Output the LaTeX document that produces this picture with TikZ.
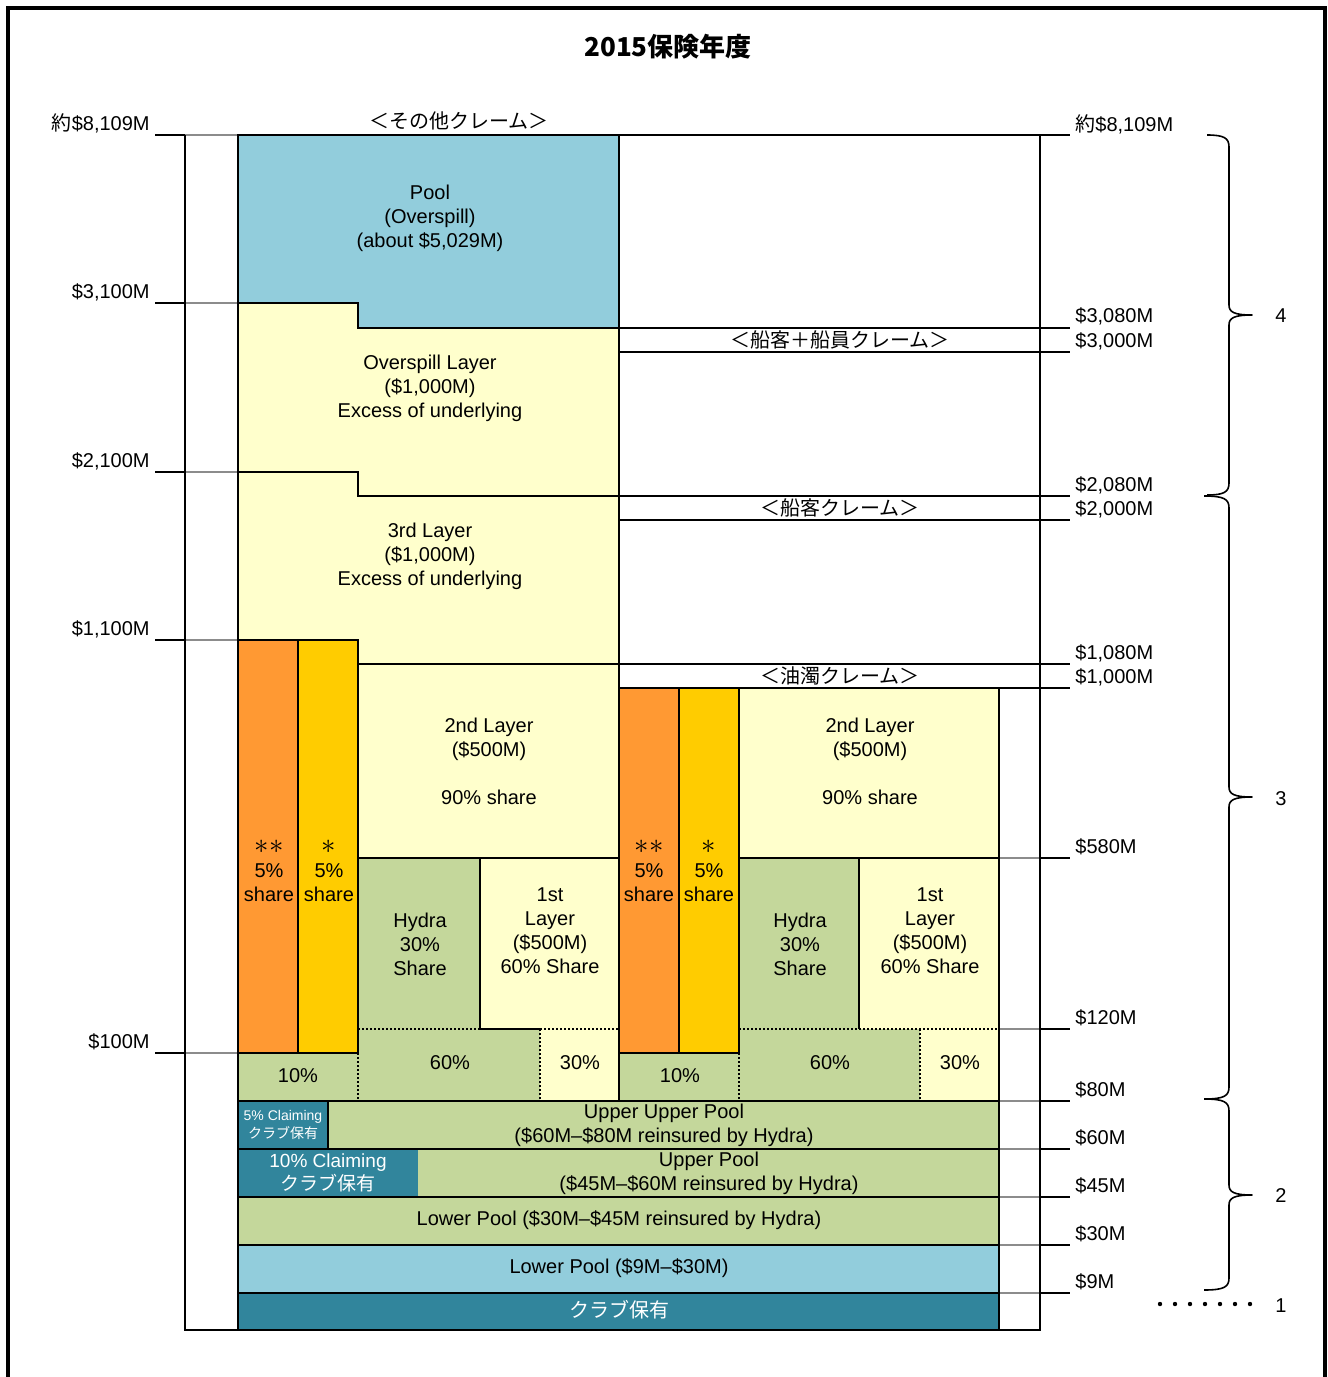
\documentclass[tikz,border=0pt]{standalone}
\usepackage{fontspec}
\setmainfont{Liberation Sans}
\newfontfamily\cjkfont{Noto Sans CJK JP}
\newcommand\jtxt[1]{{\cjkfont #1}}
\newcommand\bigast[1]{{\fontsize{15}{12}\selectfont$#1$}}
\definecolor{poolblue}{HTML}{92CDDC}
\definecolor{lyellow}{HTML}{FFFFCC}
\definecolor{lorange}{HTML}{FF9933}
\definecolor{lgold}{HTML}{FFCC00}
\definecolor{lgreen}{HTML}{C4D79B}
\definecolor{clubteal}{HTML}{31859C}
\newcommand\drawbrace[4]{%
  \draw[bracestyle] (#1,#2) .. controls (1224,#2) and (1229,#2+3) .. (1229,#2+12)
    -- (1229,#3-10) .. controls (1229,#3-3) and (1234,#3) .. (1252,#3)
    .. controls (1234,#3) and (1229,#3+3) .. (1229,#3+10)
    -- (1229,#4-12) .. controls (1229,#4-3) and (1224,#4) .. (#1,#4);}
\begin{document}
\begin{tikzpicture}[x=0.5pt,y=-0.5pt,
  every node/.style={inner sep=0pt, font=\fontsize{10}{12}\selectfont, align=center},
  solidline/.style={line width=1pt, black},
  thinline/.style={line width=0.6pt, black},
  grayline/.style={line width=0.6pt, black!45},
  dotline/.style={line width=1pt, black, dash pattern=on 1pt off 1pt},
  tickline/.style={line width=1pt, black},
  bracestyle/.style={line width=0.8pt, black, line join=round},
  whitetxt/.style={text=white}]
\useasboundingbox (0,0) rectangle (1328,1377);
\fill[white] (0,0) rectangle (1328,1377);
% outer frame
\draw[line width=2pt] (8,1377) -- (8,8) -- (1325,8) -- (1325,1377);

% ---------- fills ----------
\fill[poolblue] (238,135) -- (619,135) -- (619,328) -- (358,328) -- (358,303) -- (238,303) -- cycle;
\fill[lyellow] (238,303) -- (358,303) -- (358,328) -- (619,328) -- (619,664) -- (358,664) -- (358,640) -- (238,640) -- cycle;
\fill[lorange] (238,640) rectangle (298,1053);
\fill[lgold] (298,640) rectangle (358,1053);
\fill[lyellow] (358,664) rectangle (619,1101);
\fill[lgreen] (358,858) rectangle (480,1029);
\fill[lgreen] (358,1029) rectangle (540,1101);
\fill[lgreen] (238,1053) rectangle (358,1101);
\fill[lorange] (619,688) rectangle (679,1053);
\fill[lgold] (679,688) rectangle (739,1053);
\fill[lyellow] (739,688) rectangle (999,1101);
\fill[lgreen] (739,858) rectangle (859,1029);
\fill[lgreen] (739,1029) rectangle (920,1101);
\fill[lgreen] (619,1053) rectangle (739,1101);
\fill[lgreen] (238,1101) rectangle (999,1245);
\fill[clubteal] (238,1101) rectangle (328,1149);
\fill[clubteal] (238,1149) rectangle (418,1197);
\fill[poolblue] (238,1245) rectangle (999,1293);
\fill[clubteal] (238,1293) rectangle (999,1330);

% ---------- thin lines ----------
\foreach \y in {135,303,472,640,1053} \draw[grayline] (185,\y) -- (238,\y);
\foreach \y in {858,1029,1101,1149,1197,1245,1293} \draw[grayline] (999,\y) -- (1040,\y);
\foreach \y in {135,328,352,496,520,664,688} \draw[thinline] (619,\y) -- (1040,\y);

% ---------- axes and ticks ----------
\draw[solidline] (185,135) -- (185,1330) -- (1040,1330) -- (1040,135);
\foreach \y in {135,303,472,640,1053} \draw[tickline] (155,\y) -- (185,\y);
\foreach \y in {135,328,352,496,520,664,688,858,1029,1101,1149,1197,1245,1293} \draw[tickline] (1040,\y) -- (1070,\y);

% ---------- box outlines ----------
\draw[solidline] (238,303) -- (238,135) -- (619,135) -- (619,1101);
\draw[solidline] (619,328) -- (358,328) -- (358,303) -- (238,303);
\draw[solidline] (619,496) -- (358,496) -- (358,472) -- (238,472);
\draw[solidline] (619,664) -- (358,664) -- (358,640) -- (238,640);
\draw[solidline] (238,135) -- (238,1330);
\draw[solidline] (238,640) rectangle (298,1053);
\draw[solidline] (298,640) rectangle (358,1053);
\draw[solidline] (358,664) rectangle (619,858);
\draw[solidline] (480,858) -- (480,1029);
\draw[solidline] (480,1029) -- (540,1029);
\draw[solidline] (619,688) rectangle (679,1053);
\draw[solidline] (679,688) rectangle (739,1053);
\draw[solidline] (739,688) rectangle (999,858);
\draw[solidline] (859,858) -- (859,1029);
\draw[solidline] (999,688) -- (999,1330);
\foreach \y in {1101,1149,1197,1245,1293} \draw[solidline] (238,\y) -- (999,\y);
\draw[solidline] (328,1101) -- (328,1149);
% dotted
\draw[dotline] (358,1029) -- (480,1029);
\draw[dotline] (540,1029) -- (619,1029);
\draw[dotline] (540,1029) -- (540,1101);
\draw[dotline] (358,1053) -- (358,1101);
\draw[dotline] (739,1029) -- (999,1029);
\draw[dotline] (920,1029) -- (920,1101);
\draw[dotline] (739,1053) -- (739,1101);

% ---------- braces ----------
\drawbrace{1207}{135}{315}{495}
\drawbrace{1204}{496}{797}{1099}
\drawbrace{1204}{1099}{1195}{1290}
\foreach \x in {1160,1175,...,1250} \fill (\x,1304) circle (2.2);

% ---------- texts ----------
\node (title) at (668,47) {\fontsize{13}{15}\selectfont\cjkfont\bfseries 2015保険年度};
\node (cOther) at (459,121) {\jtxt{＜その他クレーム＞}};
\node (cPax) at (840,340) {\jtxt{＜船客＋船員クレーム＞}};
\node (cPass) at (840,508) {\jtxt{＜船客クレーム＞}};
\node (cOil) at (840,676) {\jtxt{＜油濁クレーム＞}};

\node[anchor=east] (l8109) at (150,123) {\jtxt{約}\$8,109M};
\node[anchor=east] (l3100) at (150,292) {\$3,100M};
\node[anchor=east] (l2100) at (150,461) {\$2,100M};
\node[anchor=east] (l1100) at (150,629) {\$1,100M};
\node[anchor=east] (l100) at (150,1042) {\$100M};

\node[anchor=west] (r8109) at (1075,124) {\jtxt{約}\$8,109M};
\node[anchor=west] (r3080) at (1075,316) {\$3,080M};
\node[anchor=west] (r3000) at (1075,341) {\$3,000M};
\node[anchor=west] (r2080) at (1075,485) {\$2,080M};
\node[anchor=west] (r2000) at (1075,509) {\$2,000M};
\node[anchor=west] (r1080) at (1075,653) {\$1,080M};
\node[anchor=west] (r1000) at (1075,677) {\$1,000M};
\node[anchor=west] (r580) at (1075,847) {\$580M};
\node[anchor=west] (r120) at (1075,1018) {\$120M};
\node[anchor=west] (r80) at (1075,1090) {\$80M};
\node[anchor=west] (r60) at (1075,1138) {\$60M};
\node[anchor=west] (r45) at (1075,1186) {\$45M};
\node[anchor=west] (r30) at (1075,1234) {\$30M};
\node[anchor=west] (r9) at (1075,1282) {\$9M};

\node (n4) at (1281,316) {4};
\node (n3) at (1281,799) {3};
\node (n2) at (1281,1196) {2};
\node (n1) at (1281,1306) {1};

\node (pool) at (430,218) {Pool\\(Overspill)\\(about \$5,029M)};
\node (overspill) at (430,388) {Overspill Layer\\(\$1,000M)\\Excess of underlying};
\node (third) at (430,556) {3rd Layer\\(\$1,000M)\\Excess of underlying};

\node (secondL) at (489,761) {2nd Layer\\(\$500M)\\[12pt]90\% share};
\node (orangeL) at (269,871) {\bigast{\ast\ast}\\5\%\\share};
\node (goldL) at (329,871) {\bigast{\ast}\\5\%\\share};
\node (hydraL) at (420,944) {Hydra\\30\%\\Share};
\node (firstL) at (550,931) {1st\\Layer\\(\$500M)\\60\% Share};
\node (tenL) at (298,1076) {10\%};
\node (sixtyL) at (450,1063) {60\%};
\node (thirtyL) at (580,1063) {30\%};

\node (secondR) at (870,761) {2nd Layer\\(\$500M)\\[12pt]90\% share};
\node (orangeR) at (649,871) {\bigast{\ast\ast}\\5\%\\share};
\node (goldR) at (709,871) {\bigast{\ast}\\5\%\\share};
\node (hydraR) at (800,944) {Hydra\\30\%\\Share};
\node (firstR) at (930,931) {1st\\Layer\\(\$500M)\\60\% Share};
\node (tenR) at (680,1076) {10\%};
\node (sixtyR) at (830,1063) {60\%};
\node (thirtyR) at (960,1063) {30\%};

\node[whitetxt, font=\fontsize{7}{9}\selectfont] (club5) at (283,1125) {5\% Claiming\\\jtxt{クラブ保有}};
\node (uup) at (664,1125) {Upper Upper Pool\\(\$60M–\$80M reinsured by Hydra)};
\node[whitetxt, font=\fontsize{9.5}{11.5}\selectfont] (club10) at (328,1173) {10\% Claiming\\\jtxt{クラブ保有}};
\node (up) at (709,1173) {Upper Pool\\(\$45M–\$60M reinsured by Hydra)};
\node (lp1) at (619,1220) {Lower Pool (\$30M–\$45M reinsured by Hydra)};
\node (lp2) at (619,1268) {Lower Pool (\$9M–\$30M)};
\node[whitetxt] (club) at (619,1310) {\fontsize{10}{11}\selectfont\jtxt{クラブ保有}};
\end{tikzpicture}
\end{document}
